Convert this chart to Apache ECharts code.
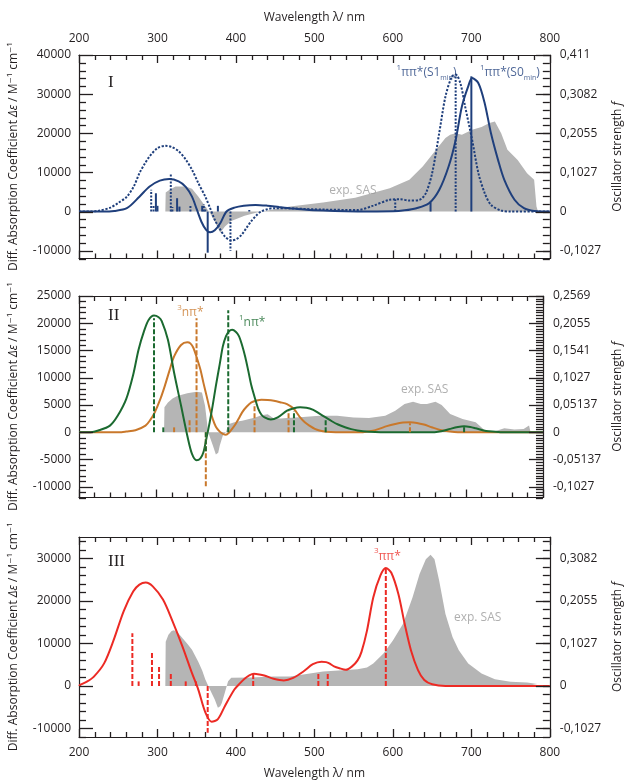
<!DOCTYPE html>
<html>
<head>
<meta charset="utf-8">
<script src="https://cdn.jsdelivr.net/npm/echarts@6/dist/echarts.min.js"></script>
<style>
html,body{margin:0;padding:0;background:#fff;}
#chart{width:632px;height:781px;}
</style>
</head>
<body>
<div id="chart"></div>
<script>
// ---------------- DATA ----------------
// tick labels
const wavelengthTicks = [200, 300, 400, 500, 600, 700, 800];
const p1LeftTicks = [-10000, 0, 10000, 20000, 30000, 40000];
const p1RightTicks = [-0.1027, 0, 0.1027, 0.2055, 0.3082, 0.411];
const p2LeftTicks = [-10000, -5000, 0, 5000, 10000, 15000, 20000, 25000];
const p2RightTicks = [-0.1027, -0.05137, 0, 0.05137, 0.1027, 0.1541, 0.2055, 0.2569];
const p3LeftTicks = [-10000, 0, 10000, 20000, 30000];
const p3RightTicks = [-0.1027, 0, 0.1027, 0.2055, 0.3082];

// Panel I : [wavelength nm, diff. absorption coefficient]
const p1_S0_curve = [[200,0],[230,0],[245,150],[261,850],[277,3800],[290,6400],[303,7900],[315,8300],[327,7700],[336,6300],[344,3800],[350,600],[356,-2600],[362,-4700],[367,-5300],[373,-4800],[380,-3000],[388,0],[398,1000],[410,1500],[425,1700],[440,1500],[455,1150],[469,850],[490,450],[511,250],[540,80],[570,20],[600,60],[615,300],[630,850],[646,2100],[659,5500],[671,11500],[680,18300],[688,26900],[696,32000],[701,34100],[709,32800],[717,27700],[725,20000],[734,13200],[742,8100],[755,3000],[767,850],[780,150],[800,0]];
const p1_S1_curve = [[200,0],[215,0],[225,200],[240,1000],[250,2200],[261,3800],[270,6500],[277,9800],[284,12300],[290,14100],[300,16200],[310,16800],[318,16500],[327,15400],[336,13300],[344,10700],[352,7300],[361,3800],[367,900],[373,-2100],[380,-4600],[386,-6400],[394,-7400],[400,-7100],[407,-6000],[413,-4300],[419,-2600],[426,-1000],[432,0],[440,600],[448,850],[469,800],[511,500],[555,400],[575,1500],[596,3000],[609,3150],[621,2800],[634,3000],[642,4700],[650,9800],[659,20000],[667,29400],[675,34400],[680,35000],[686,32800],[692,26900],[701,18300],[709,9800],[717,4700],[725,1700],[738,250],[750,0],[800,0]];
const p1_SAS = [[310,0],[310.5,4860],[315,5500],[323,6400],[336,6400],[344,5800],[352,3840],[361,1280],[367,-430],[373,-2560],[380,-5400],[386,-3800],[394,-2400],[411,-1100],[428,-200],[435,0],[448,600],[469,1280],[511,2300],[552,3500],[596,5970],[621,8100],[638,11500],[655,15800],[667,18800],[673,19600],[680,20000],[688,19600],[701,20900],[713,21600],[723,22600],[730,23000],[738,20000],[746,15800],[759,13200],[771,9800],[780,8100],[783,1280],[785,0]];
// oscillator strengths f
const p1_S0_sticks = [[298,0.048],[300,0.015],[325,0.035],[328,0.013],[357,0.015],[364,-0.108],[377,0.015],[648,0.024],[700,0.355]];
const p1_S1_sticks = [[292,0.057],[295,0.015],[317,0.100],[319,0.012],[342,0.017],[359,0.020],[361,0.010],[393,-0.103],[417,0.004],[603,0.032],[680,0.360]];

// Panel II
const p2_1npi_curve = [[200,0],[215,0],[225,300],[240,1200],[250,3000],[261,6060],[270,10500],[277,15150],[284,18500],[290,20600],[297,21400],[303,21100],[307,20400],[315,16970],[323,10900],[332,4850],[340,-600],[346,-3940],[352,-5150],[357,-4800],[361,-3640],[365,-1000],[369,1800],[373,5000],[377,8500],[382,12500],[386,15750],[390,17600],[394,18500],[398,18800],[403,18400],[407,17600],[411,15900],[415,13800],[419,11200],[423,8500],[428,6000],[432,4240],[436,3200],[440,2700],[448,2300],[457,2700],[469,3940],[478,4400],[486,4550],[494,4500],[503,4100],[511,3400],[519,2700],[527,2000],[535,1400],[544,900],[552,550],[560,300],[575,80],[590,0],[660,0],[670,200],[680,600],[690,950],[698,1090],[706,950],[713,700],[722,350],[730,150],[745,0],[800,0]];
const p2_3npi_curve = [[200,0],[255,0],[261,100],[273,350],[286,1200],[292,2200],[298,3640],[305,6000],[311,8500],[317,11300],[323,13900],[332,16000],[340,16500],[344,16300],[348,15450],[352,13800],[357,11500],[361,9000],[365,6660],[369,4300],[373,2400],[377,1000],[382,100],[386,-300],[390,-480],[394,-100],[398,600],[403,1600],[407,2600],[411,3640],[417,4700],[423,5450],[430,5800],[436,5940],[444,5900],[452,5760],[460,5500],[469,5150],[478,4240],[486,2700],[492,1800],[498,1200],[505,600],[511,300],[520,80],[532,0],[567,0],[578,200],[588,600],[598,1100],[609,1500],[619,1750],[628,1800],[637,1700],[646,1400],[656,900],[667,400],[680,100],[690,0],[800,0]];
const p2_SAS = [[310,0],[310.5,4550],[315,5450],[321,6200],[327,6660],[340,7150],[352,7400],[359,7300],[363,4850],[367,0],[370,-1200],[373,-2400],[377,-4100],[380,-3800],[382,-2500],[386,-600],[390,0],[392,900],[394,1500],[403,1900],[411,2100],[420,2400],[428,2700],[436,3100],[444,3300],[452,2500],[461,2500],[469,2600],[490,2800],[511,3000],[534,3000],[555,2700],[575,2600],[596,3000],[609,3940],[621,5150],[632,5580],[642,5150],[650,5150],[661,5580],[669,5000],[680,3330],[696,2400],[713,1800],[725,300],[738,150],[750,730],[763,500],[775,600],[782,1200],[784,0]];
const p2_1npi_sticks = [[297,0.215],[309,0.009],[364,-0.040],[393,0.230],[478,0.040],[519,0.025],[698,0.011]];
const p2_3npi_sticks = [[323,0.009],[343,0.023],[352,0.215],[364,-0.106],[427,0.053],[471,0.040],[628,0.017]];

// Panel III
const p3_3pipi_curve = [[200,0],[202,300],[210,1000],[219,2200],[232,5300],[244,10700],[257,17600],[269,22200],[277,23800],[285,24300],[294,23400],[307,20300],[319,15300],[332,9200],[344,3000],[352,-850],[361,-6200],[369,-8400],[377,-7800],[386,-4700],[398,-850],[405,600],[411,1700],[417,2500],[423,2850],[430,2700],[436,2460],[448,1700],[461,1300],[473,1900],[486,3400],[498,5100],[509,5700],[515,5600],[519,5300],[525,4600],[532,4150],[540,3800],[548,4600],[555,6000],[560,8000],[567,13000],[575,20800],[584,25900],[591,27700],[598,26600],[607,21600],[615,14600],[623,8400],[632,3730],[640,1400],[650,400],[667,0],[800,0]];
const p3_SAS = [[310,0],[310.5,10400],[314,12000],[318,12900],[321,13100],[326,12500],[332,11200],[338,9900],[344,8500],[352,5700],[357,3600],[361,1500],[367,-900],[373,-3200],[377,-5100],[380,-4800],[382,-4000],[386,-1500],[390,1100],[394,1900],[419,2000],[448,2200],[469,2200],[490,2800],[511,3400],[555,3900],[567,4350],[575,5300],[588,7600],[600,10700],[613,14600],[625,20800],[634,26300],[642,29800],[648,30800],[653,29800],[659,24700],[667,16900],[676,11500],[684,8400],[696,5300],[713,2950],[730,1550],[750,1000],[771,780],[784,470],[785,0]];
const p3_3pipi_sticks = [[268,0.127],[276,0.011],[293,0.082],[302,0.048],[317,0.031],[336,0.011],[349,0.011],[364,-0.113],[422,0.029],[505,0.029],[517,0.032],[591,0.285]];

// annotations [wavelength, value, text, align]
const p1_notes = [[681,35500,'{sup|1}ππ*(S1{sub|min})','right'],[711,35500,'{sup|1}ππ*(S0{sub|min})','left']];
const p2_notes = [[344,21900,'{sup|3}nπ*','center'],[424,20100,'{sup|1}nπ*','center']];
const p3_notes = [[593,30500,'{sup|3}ππ*','center']];
const sasNotes = [[549,5300],[647,7900],[708,16150]];

// ---------------- STYLE / LAYOUT ----------------
const K = 0.411 / 40000;  // f per M^-1 cm^-1
const FONT = '"Open Sans", "DejaVu Sans", sans-serif';
const DARK = '#231f20';
const NAVY = '#1f3f7c';
const GREEN = '#1b6a30';
const ORANGE = '#c9782b';
const RED = '#ec2a24';
const GREY = '#b5b5b5';
const TICKW = 1.3;

const panels = [
  {top: 55, height: 203.5, min: -12000, max: 40000, lStep: 2000, rStep: 2000, lTicks: p1LeftTicks, rTicks: p1RightTicks, topLab: true, botLab: false},
  {top: 296, height: 201.5, min: -12000, max: 25000, lStep: 1000, rStep: 500, lTicks: p2LeftTicks, rTicks: p2RightTicks, topLab: false, botLab: false},
  {top: 537, height: 200.5, min: -12000, max: 35000, lStep: 2000, rStep: 2000, lTicks: p3LeftTicks, rTicks: p3RightTicks, topLab: false, botLab: true}
];

const grids = [], xAxes = [], yAxes = [], series = [];
const lineStyleAxis = {color: DARK, width: 1.2};

panels.forEach((p, g) => {
  grids.push({left: 78, right: 74, top: p.top, height: p.height, containLabel: false});
  ['bottom', 'top'].forEach(pos => {
    const lab = pos === 'top' ? p.topLab : p.botLab;
    xAxes.push({
      type: 'value', gridIndex: g, position: pos, min: 200, max: 800, interval: 100,
      axisLine: {show: true, onZero: false, lineStyle: lineStyleAxis},
      axisTick: {show: false}, splitLine: {show: false},
      axisLabel: {show: lab, customValues: wavelengthTicks, margin: 10, fontSize: 12, color: DARK, fontFamily: FONT, formatter: v => String(v)},
      name: lab ? 'Wavelength λ/ nm' : '', nameLocation: 'middle', nameGap: 31,
      nameTextStyle: {fontSize: 12, color: DARK, fontFamily: FONT}
    });
  });
  // left: diff. absorption coefficient
  yAxes.push({
    type: 'value', gridIndex: g, position: 'left', min: p.min, max: p.max, interval: p.lStep,
    axisLine: {show: true, lineStyle: lineStyleAxis},
    axisTick: {show: false},
    axisLabel: {customValues: p.lTicks, margin: 8, fontSize: 12, color: DARK, fontFamily: FONT, formatter: v => String(v)},
    splitLine: {show: false},
    name: 'Diff. Absorption Coefficient {i|Δε} / M⁻¹ cm⁻¹', nameLocation: 'middle', nameRotate: 90, nameGap: 59,
    nameTextStyle: {fontSize: 12, color: DARK, fontFamily: FONT, rich: {i: {fontStyle: 'italic', fontSize: 12, color: DARK, fontFamily: FONT}}}
  });
  // right: oscillator strength
  const rMax = Math.max(p.max * K, p.rTicks[p.rTicks.length - 1]) + 1e-9;
  yAxes.push({
    type: 'value', gridIndex: g, position: 'right', min: p.min * K - 1e-9, max: rMax,
    axisLine: {show: true, lineStyle: lineStyleAxis},
    axisTick: {show: false},
    axisLabel: {customValues: p.rTicks, margin: 10, fontSize: 12, color: DARK, fontFamily: FONT, formatter: v => String(v).replace('.', ',')},
    splitLine: {show: false},
    name: 'Oscillator strength {i|f}', nameLocation: 'middle', nameRotate: 90, nameGap: 57,
    nameTextStyle: {fontSize: 12, color: DARK, fontFamily: FONT, rich: {i: {fontStyle: 'italic', fontSize: 12, color: DARK, fontFamily: FONT}}}
  });
});

// inward tick marks, positioned through the axes' own scales
function seq(a, b, s) { const r = []; for (let v = a; v <= b + 1e-9; v += s) r.push(Math.round(v * 1e6) / 1e6); return r; }
function tickMarks(g, p) {
  const xMinor = seq(200, 800, 20), xMajor = wavelengthTicks;
  const yl = seq(p.min, p.max, p.lStep), yr = seq(p.min, p.max, p.rStep);
  return {type: 'custom', xAxisIndex: 2 * g, yAxisIndex: 2 * g, data: [0], silent: true, z: 20, clip: false,
    renderItem: (params, api) => {
      const ch = [];
      const L = (x1, y1, x2, y2) => ch.push({type: 'line', shape: {x1, y1, x2, y2}, style: {stroke: DARK, lineWidth: TICKW}});
      const sn = v => Math.round(v) + 0.5;
      xMinor.forEach(v => {
        const major = xMajor.indexOf(v) >= 0, len = major ? 8 : 5;
        const b = api.coord([v, p.min]), t = api.coord([v, p.max]);
        L(sn(b[0]), b[1], sn(b[0]), b[1] - len);
        L(sn(t[0]), t[1], sn(t[0]), t[1] + len);
      });
      yl.forEach(v => {
        const len = p.lTicks.indexOf(v) >= 0 ? 14 : 7;
        const c = api.coord([200, v]);
        L(c[0], sn(c[1]), c[0] + len, sn(c[1]));
      });
      yr.forEach(v => {
        const c = api.coord([800, v]);
        L(c[0], sn(c[1]), c[0] - 7, sn(c[1]));
      });
      return {type: 'group', children: ch};
    }};
}
function rightMajor(g, p) {
  return {type: 'custom', xAxisIndex: 2 * g, yAxisIndex: 2 * g + 1, data: [0], silent: true, z: 20, clip: false,
    renderItem: (params, api) => ({type: 'group', children: p.rTicks.map(v => {
      const c = api.coord([800, v]); const y = Math.round(c[1]) + 0.5;
      return {type: 'line', shape: {x1: c[0], y1: y, x2: c[0] - 14, y2: y}, style: {stroke: DARK, lineWidth: TICKW}};
    })})};
}

function area(g, data) {
  return {type: 'line', xAxisIndex: 2 * g, yAxisIndex: 2 * g, data, symbol: 'none', silent: true, z: 1,
    lineStyle: {width: 0}, areaStyle: {color: GREY, opacity: 1, origin: 0}, itemStyle: {color: GREY}};
}
function curve(g, data, color, type, z) {
  return {type: 'line', xAxisIndex: 2 * g, yAxisIndex: 2 * g, data, symbol: 'none', silent: true, z: z || 3,
    smooth: 0.3, lineStyle: {color, width: 2, type: type || 'solid', cap: 'butt'}, itemStyle: {color}};
}
function sticks(g, data, color, dash, z) {
  return {type: 'custom', xAxisIndex: 2 * g, yAxisIndex: 2 * g + 1, data, silent: true, z: z || 4,
    encode: {x: 0, y: 1},
    renderItem: (params, api) => {
      const a = api.coord([api.value(0), 0]);
      const b = api.coord([api.value(0), api.value(1)]);
      return {type: 'line', shape: {x1: a[0], y1: a[1], x2: b[0], y2: b[1]},
        style: {stroke: color, lineWidth: 2, lineDash: dash, fill: null}};
    }};
}
const RICH = {
  sup: {fontSize: 8, verticalAlign: 'top', lineHeight: 18, fontFamily: FONT},
  sub: {fontSize: 7, verticalAlign: 'bottom', lineHeight: 18, fontFamily: FONT}
};
function notes(g, items, color) {
  return {type: 'scatter', xAxisIndex: 2 * g, yAxisIndex: 2 * g, symbolSize: 0, silent: true, z: 10,
    data: items.map(n => ({value: [n[0], n[1]], label: {formatter: n[2], align: n[3]}})),
    label: {show: true, position: [0, 0], verticalAlign: 'middle', color, fontSize: 12, fontFamily: FONT, rich: RICH}};
}

// Panel I
series.push(area(0, p1_SAS));
series.push(curve(0, p1_S1_curve, NAVY, [2.2, 1.6], 3));
series.push(curve(0, p1_S0_curve, NAVY, 'solid', 4));
series.push(sticks(0, p1_S1_sticks, NAVY, [2, 1.5], 5));
series.push(sticks(0, p1_S0_sticks, NAVY, null, 5));
series.push(notes(0, p1_notes, NAVY));
// Panel II
series.push(area(1, p2_SAS));
series.push(curve(1, p2_3npi_curve, ORANGE, 'solid', 3));
series.push(curve(1, p2_1npi_curve, GREEN, 'solid', 4));
series.push(sticks(1, p2_3npi_sticks, ORANGE, [5, 2], 5));
series.push(sticks(1, p2_1npi_sticks, GREEN, [5, 2], 6));
series.push(notes(1, [p2_notes[0]], ORANGE));
series.push(notes(1, [p2_notes[1]], GREEN));
// Panel III
series.push(area(2, p3_SAS));
series.push(curve(2, p3_3pipi_curve, RED, 'solid', 4));
series.push(sticks(2, p3_3pipi_sticks, RED, [5, 2], 5));
series.push(notes(2, p3_notes, RED));
// exp. SAS labels
sasNotes.forEach((n, g) => {
  series.push({type: 'scatter', xAxisIndex: 2 * g, yAxisIndex: 2 * g, symbolSize: 0, silent: true, z: 10,
    data: [{value: n}],
    label: {show: true, position: [0, 0], align: 'center', verticalAlign: 'middle', formatter: 'exp. SAS', color: '#9b9b9b', fontSize: 12, fontFamily: FONT}});
});
panels.forEach((p, g) => { series.push(tickMarks(g, p)); series.push(rightMajor(g, p)); });

const romans = ['I', 'II', 'III'];
const romanY = [83, 316, 562];
const graphic = romans.map((t, i) => ({
  type: 'text', left: 108, top: romanY[i] - 9,
  style: {text: t, font: '17px "Liberation Serif", "DejaVu Serif", serif', fill: DARK}
}));

const chart = echarts.init(document.getElementById('chart'), null, {renderer: 'canvas'});
chart.setOption({
  animation: false,
  backgroundColor: '#ffffff',
  grid: grids, xAxis: xAxes, yAxis: yAxes, series, graphic
});
</script>
</body>
</html>
